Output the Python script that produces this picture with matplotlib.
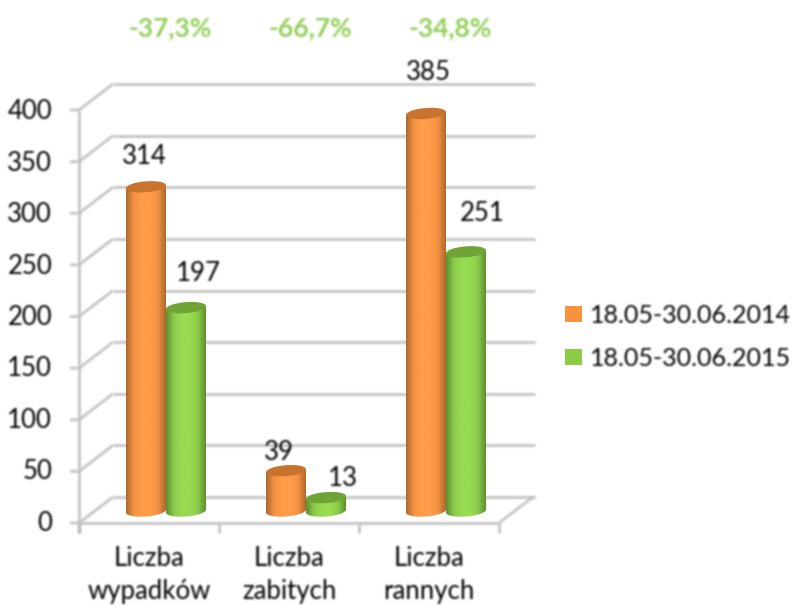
import numpy as np
import matplotlib
matplotlib.use("Agg")
import matplotlib.pyplot as plt
from matplotlib.colors import LinearSegmentedColormap
from matplotlib.patches import Patch, Polygon

# ==============================
# DATA
# ==============================
categories = ["Liczba\nwypadków", "Liczba\nzabitych", "Liczba\nrannych"]
series_names = ["18.05-30.06.2014", "18.05-30.06.2015"]
values_2014 = [314, 39, 385]
values_2015 = [197, 13, 251]
changes = ["-37,3%", "-66,7%", "-34,8%"]
y_ticks = [0, 50, 100, 150, 200, 250, 300, 350, 400]

# ==============================
# LAYOUT (pixels of the 792x605 picture)
# ==============================
W, H = 792, 605
PX_X0, PX_Y0 = 79, 523      # front corner of the floor
PX_PER_CAT = 140
PX_PER_VAL = 413 / 400
DEPTH_X, DEPTH_Y = 34 / PX_PER_CAT, 26 / PX_PER_VAL
BAR_W = 40 / PX_PER_CAT
RIM = 5.5 / PX_PER_VAL      # half height of the cylinder ellipse
TILT = 1.5 / PX_PER_VAL

GRID = "#c4c4c4"
TEXT = "#000000"
plt.rcParams["font.family"] = ["Lato", "DejaVu Sans"]


# the reference is a soft, upscaled picture: blur text and lines a little
def soften(img, dpi):
    pad = 3
    img = np.pad(img, ((pad, pad), (pad, pad), (0, 0)))
    img[..., :3] *= img[..., 3:]
    kernel = np.array([1, 4, 6, 4, 1]) / 16
    for axis in (0, 1):
        img = np.apply_along_axis(lambda v: np.convolve(v, kernel, mode="same"), axis, img)
    alpha = np.maximum(img[..., 3:], 1e-4)
    img[..., :3] = np.clip(img[..., :3] / alpha, 0, 1)
    return img, -pad, -pad


fig = plt.figure(figsize=(W / 100, H / 100), dpi=100)
ax = fig.add_axes([0, 0, 1, 1])
ax.set_xlim(-PX_X0 / PX_PER_CAT, (W - PX_X0) / PX_PER_CAT)
ax.set_ylim((PX_Y0 - H) / PX_PER_VAL, PX_Y0 / PX_PER_VAL)
ax.axis("off")
ax.set_autoscale_on(False)

n = len(categories)
dy_px = 1 / PX_PER_VAL


def line(xs, ys, lw=2.0):
    ax.plot(xs, ys, color=GRID, lw=lw, solid_capstyle="butt", zorder=1, agg_filter=soften)


def label(x, y, s, size=18.5, **kw):
    kw.setdefault("color", TEXT)
    ax.text(x, y, s, ha=kw.pop("ha", "center"), va="center", fontsize=size, zorder=5,
            agg_filter=soften, **kw)


# walls and floor
for t in y_ticks:
    line([-9 / PX_PER_CAT, 0, DEPTH_X], [t, t, t + DEPTH_Y])
    line([DEPTH_X, n + DEPTH_X + 2 / PX_PER_CAT], [t + DEPTH_Y, t + DEPTH_Y])
    label(-27 / PX_PER_CAT, t + (200 - t) * 0.004 * dy_px * 1 - 1 * dy_px, str(t), ha="right")
line([0, 0], [-10 * dy_px, y_ticks[-1]])
line([0, n], [0, 0])
line([n, n + DEPTH_X], [0, DEPTH_Y])
for i in range(n + 1):
    line([i, i], [0, -10 * dy_px])


def cylinder(xc, top, light, mid, dark, rim_color):
    # xc: centre of the bar, top: value of the bar
    base = DEPTH_Y / 2 - 1 * dy_px
    t = np.linspace(np.pi, 0, 40)
    ex = np.cos(t) * BAR_W / 2
    ey = np.sin(t)
    tilt = ex / (BAR_W / 2) * TILT
    y_top = base + top
    # side: straight from the top rim, closed by the lower half of the base ellipse
    side_x = np.r_[xc - BAR_W / 2, xc + ex, xc + BAR_W / 2]
    side_y = np.r_[y_top - TILT, base - ey * RIM + tilt, y_top + TILT]
    side = Polygon(np.c_[side_x, side_y], closed=True, fc="none", ec="none", zorder=3)
    ax.add_patch(side)
    cmap = LinearSegmentedColormap.from_list("c", [dark, mid, light, light, mid, dark])
    grad = np.linspace(0, 1, 64).reshape(1, -1)
    im = ax.imshow(grad, cmap=cmap, extent=[xc - BAR_W / 2, xc + BAR_W / 2, base - RIM * 1.5, y_top + RIM],
                   aspect="auto", zorder=3, interpolation="bilinear")
    im.set_clip_path(side)
    # top ellipse
    t = np.linspace(0, 2 * np.pi, 80)
    ex = np.cos(t) * BAR_W / 2
    ey = np.sin(t) * RIM + ex / (BAR_W / 2) * TILT
    ax.add_patch(Polygon(np.c_[xc + ex, y_top + ey], closed=True, fc=rim_color, ec="none", zorder=4))


orange = ("#ff9d4a", "#f59243", "#ad6a2c", "#c8742f")
green = ("#98dc52", "#8ccb4b", "#5f8f30", "#6fa336")
offs_2014 = [(-2, 30), (-7, 18), (2, 41)]
offs_2015 = [(12, 34), (17, 19), (16, 38)]

for i in range(n):
    mid = i + 0.5 + DEPTH_X / 2
    cylinder(mid - BAR_W / 2, values_2014[i], *orange)
    cylinder(mid + BAR_W / 2, values_2015[i], *green)
    base = DEPTH_Y / 2 - dy_px
    for xc, v, (ox, oy) in ((mid - BAR_W / 2, values_2014[i], offs_2014[i]),
                            (mid + BAR_W / 2, values_2015[i], offs_2015[i])):
        label(xc + ox / PX_PER_CAT, base + v + oy * dy_px, str(v))
    first, second = categories[i].split("\n")
    label(i + 0.5, -36 * dy_px, first)
    label(i + 0.5, -68 * dy_px, second)
    label(i + 0.5 + 21 / PX_PER_CAT, (PX_Y0 - 28) * dy_px, changes[i], size=19,
          fontweight="bold", color="#93cf5a")

handles = [Patch(fc="#f7933f", ec="none", label=series_names[0]),
           Patch(fc="#8ccb45", ec="none", label=series_names[1])]
leg = ax.legend(handles=handles, loc="center left", bbox_to_anchor=(542 / W, 1 - 337 / H), frameon=False,
                fontsize=18, labelcolor=TEXT, handlelength=0.68, handleheight=0.6,
                handletextpad=0.32, labelspacing=0.8)
for txt in leg.get_texts():
    txt.set_agg_filter(soften)

fig.savefig("out.png", dpi=100)
